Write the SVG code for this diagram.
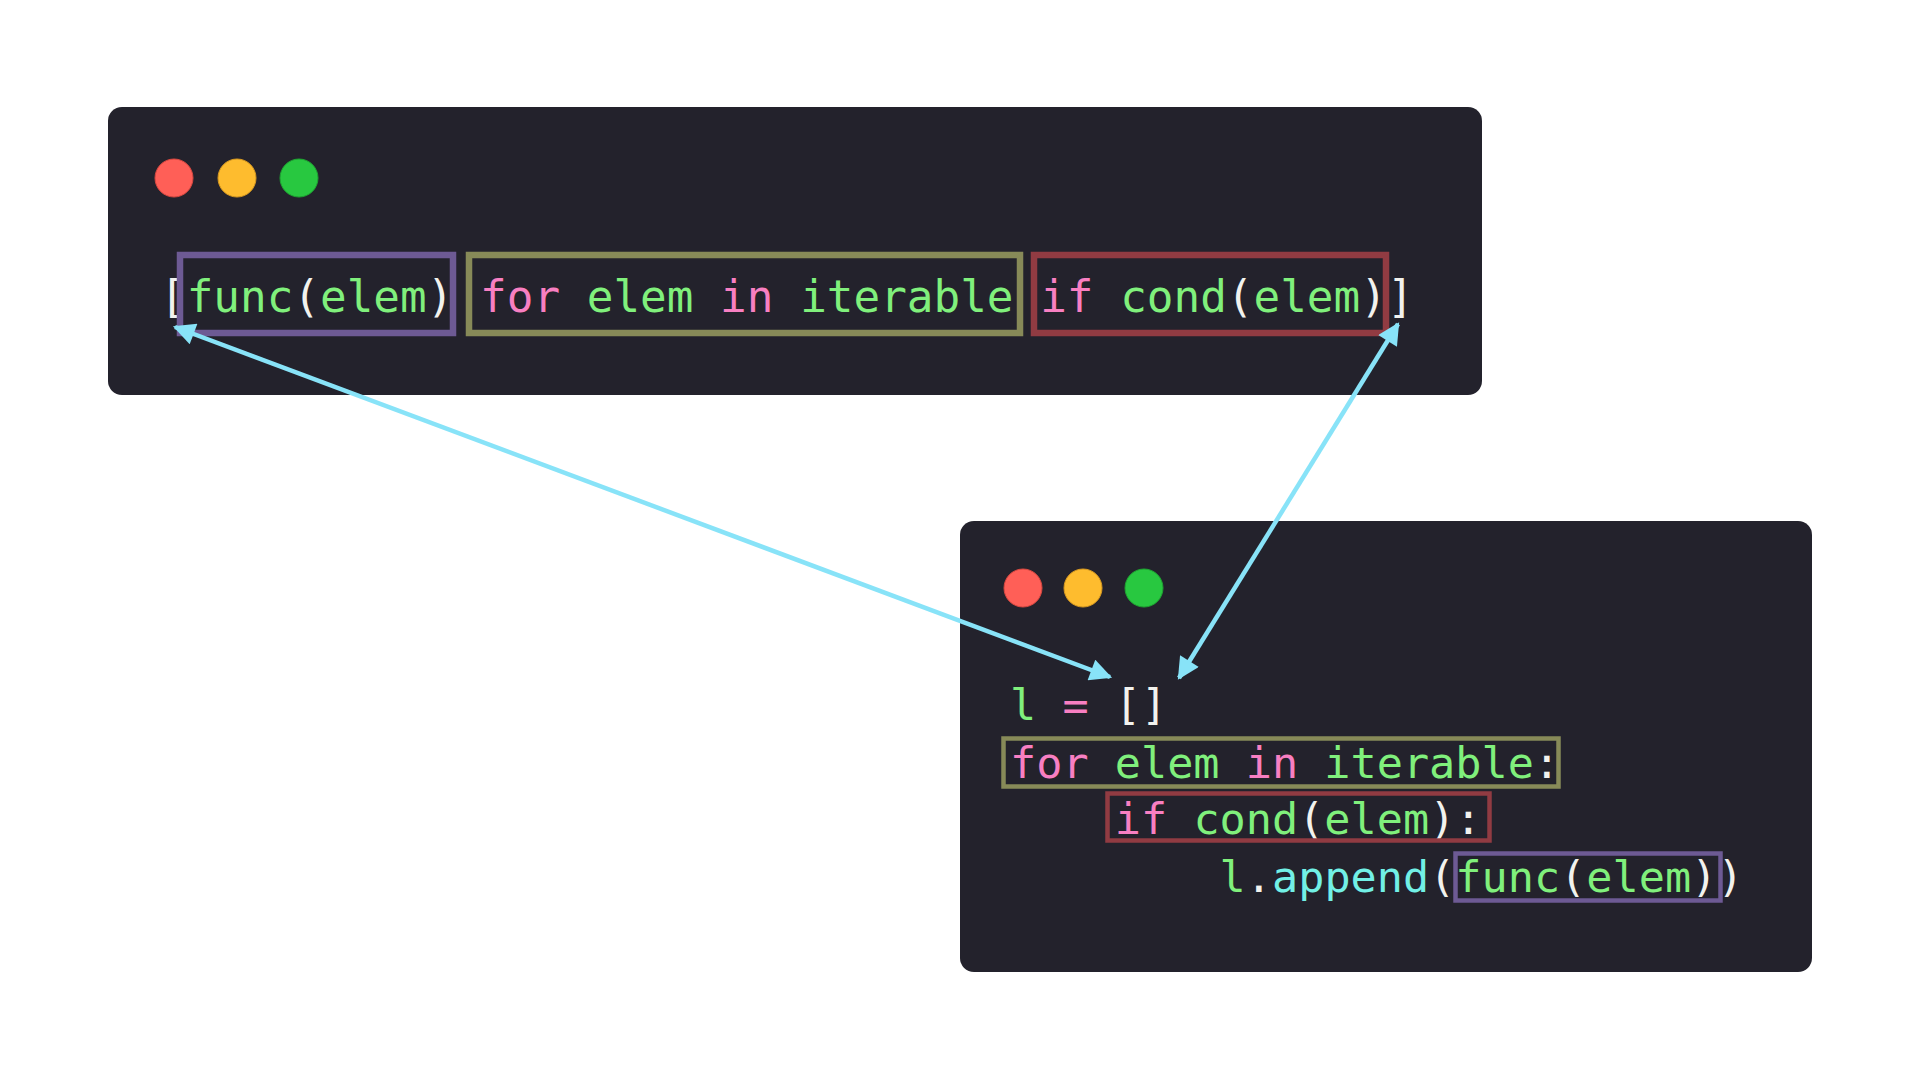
<svg xmlns="http://www.w3.org/2000/svg" width="1920" height="1080" viewBox="0 0 1920 1080">
  <style>
    .win { fill: #23222c; }
    .code { font-family: "DejaVu Sans Mono", "Liberation Mono", monospace; font-size: 44.3px; }
    .code2 { font-family: "DejaVu Sans Mono", "Liberation Mono", monospace; font-size: 43.5px; }
    .g { fill: #80f07c; }
    .p { fill: #f87fc2; }
    .w { fill: #f2f2ee; }
    .c { fill: #72f0e6; }
    .red { fill: #ff5f57; stroke: #d94840; stroke-width: 1; }
    .yel { fill: #febc2e; stroke: #d99a20; stroke-width: 1; }
    .grn { fill: #28c840; stroke: #1ea431; stroke-width: 1; }
    .bx { fill: none; }
    .bolive { stroke: #878a58; }
    .bred { stroke: #913b42; }
    .bpur { stroke: #6d5a94; }
    .conn { stroke: #88e3f8; stroke-width: 4.5; fill: none; }
  </style>
  <defs>
    <marker id="ah" viewBox="0 0 10 10" refX="9" refY="5" markerWidth="24" markerHeight="22" markerUnits="userSpaceOnUse" orient="auto-start-reverse">
      <path d="M0,0 L10,5 L0,10 z" fill="#88e3f8"/>
    </marker>
  </defs>
  <rect width="1920" height="1080" fill="#ffffff"/>

  <g id="window-comprehension">
    <rect class="win" x="108" y="107" width="1374" height="288" rx="14"/>
    <circle class="red" cx="174" cy="178" r="19"/>
    <circle class="yel" cx="237" cy="178" r="19"/>
    <circle class="grn" cx="299" cy="178" r="19"/>
    <text class="code" x="160" y="312"><tspan class="w">[</tspan><tspan class="g">func</tspan><tspan class="w">(</tspan><tspan class="g">elem</tspan><tspan class="w">)</tspan> <tspan class="p">for</tspan> <tspan class="g">elem</tspan> <tspan class="p">in</tspan> <tspan class="g">iterable</tspan> <tspan class="p">if</tspan> <tspan class="g">cond</tspan><tspan class="w">(</tspan><tspan class="g">elem</tspan><tspan class="w">)</tspan><tspan class="w">]</tspan></text>
    <rect id="box-func-top" class="bx bpur" x="180" y="255" width="273" height="78" stroke-width="6.5"/>
    <rect id="box-for-top" class="bx bolive" x="469" y="255" width="551" height="78" stroke-width="6.5"/>
    <rect id="box-if-top" class="bx bred" x="1034" y="255" width="352" height="78" stroke-width="6.5"/>
  </g>

  <g id="window-loop">
    <rect class="win" x="960" y="521" width="852" height="451" rx="14"/>
    <circle class="red" cx="1023" cy="588" r="19"/>
    <circle class="yel" cx="1083" cy="588" r="19"/>
    <circle class="grn" cx="1144" cy="588" r="19"/>
    <text class="code2" x="1010" y="720"><tspan class="g">l</tspan> <tspan class="p">=</tspan> <tspan class="w">[]</tspan></text>
    <text class="code2" x="1010" y="778"><tspan class="p">for</tspan> <tspan class="g">elem</tspan> <tspan class="p">in</tspan> <tspan class="g">iterable</tspan><tspan class="w">:</tspan></text>
    <text class="code2" x="1114.8" y="834"><tspan class="p">if</tspan> <tspan class="g">cond</tspan><tspan class="w">(</tspan><tspan class="g">elem</tspan><tspan class="w">):</tspan></text>
    <text class="code2" x="1219.6" y="892"><tspan class="g">l</tspan><tspan class="w">.</tspan><tspan class="c">append</tspan><tspan class="w">(</tspan><tspan class="g">func</tspan><tspan class="w">(</tspan><tspan class="g">elem</tspan><tspan class="w">))</tspan></text>
    <rect id="box-for-bottom" class="bx bolive" x="1003.5" y="738.5" width="555" height="48" stroke-width="4.5"/>
    <rect id="box-if-bottom" class="bx bred" x="1107.5" y="793.5" width="382" height="47" stroke-width="4.5"/>
    <rect id="box-func-bottom" class="bx bpur" x="1455.5" y="853.5" width="265" height="47" stroke-width="4.5"/>
  </g>

  <g id="connectors">
    <line class="conn" x1="175" y1="327" x2="1110" y2="677" marker-start="url(#ah)" marker-end="url(#ah)"/>
    <line class="conn" x1="1398" y1="324" x2="1179" y2="678" marker-start="url(#ah)" marker-end="url(#ah)"/>
  </g>
</svg>
